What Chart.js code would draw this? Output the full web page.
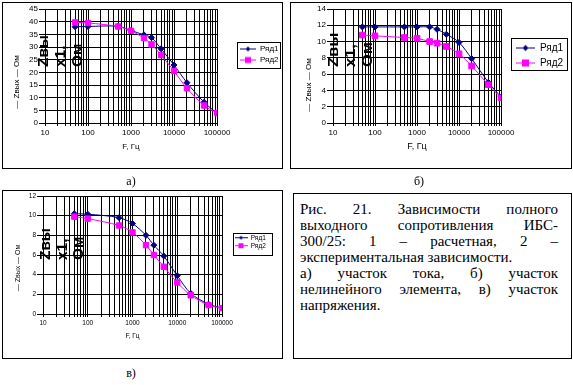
<!DOCTYPE html>
<html><head><meta charset="utf-8">
<script src="https://cdn.jsdelivr.net/npm/chart.js@4/dist/chart.umd.min.js"></script>
<style>
html,body{margin:0;padding:0;background:#fff;}
body{width:573px;height:385px;overflow:hidden;position:relative;font-family:"Liberation Sans",Arial,sans-serif;}
.box{position:absolute;border:1px solid #000;box-sizing:border-box;}
canvas{position:absolute;}
.cap{position:absolute;font-family:"Liberation Serif","Times New Roman",serif;font-size:12px;line-height:12px;transform:translateX(-50%);}
#txt{position:absolute;left:300px;top:201px;width:258px;font-family:"Liberation Serif","Times New Roman",serif;font-size:15px;line-height:16px;color:#000;}
#txt div{white-space:nowrap;}
#txt .j{text-align:justify;text-align-last:justify;white-space:normal;}
</style>
</head><body>
<div class="box" style="left:2px;top:2px;width:281px;height:167px"></div>
<div class="box" style="left:290px;top:2px;width:282px;height:167px"></div>
<div class="box" style="left:2px;top:190px;width:281px;height:169px"></div>
<div class="box" style="left:293px;top:193px;width:279px;height:166px"></div>
<canvas id="ca" width="286" height="172" style="left:0;top:0"></canvas>
<canvas id="cb" width="286" height="172" style="left:287px;top:0"></canvas>
<canvas id="cc" width="286" height="174" style="left:0;top:186px"></canvas>
<div class="cap" style="left:131px;top:175px">а)</div>
<div class="cap" style="left:419px;top:175px">б)</div>
<div class="cap" style="left:131px;top:367px">в)</div>
<div id="txt">
<div class="j">Рис. 21. Зависимости полного</div>
<div class="j">выходного сопротивления ИБС-</div>
<div class="j">300/25: 1 – расчетная, 2 –</div>
<div>экспериментальная зависимости.</div>
<div class="j">а) участок тока, б) участок</div>
<div class="j">нелинейного элемента, в) участок</div>
<div>напряжения.</div>
</div>
<script>
// ---- data ----
const seriesNames = ['Ряд1', 'Ряд2'];
const freqs = [50, 100, 500, 1000, 2000, 3000, 5000, 10000, 20000, 50000, 100000];
const aRow1 = [38.0, 38.1, 38.2, 36.5, 34.8, 33.7, 29.3, 22.9, 15.9, 8.2, 3.9];
const aRow2 = [39.7, 39.5, 38.1, 36.4, 33.5, 31.0, 26.8, 20.5, 13.7, 6.9, 3.9];
const bRow1 = [11.8, 11.8, 11.8, 11.8, 11.8, 11.5, 10.9, 9.9, 7.9, 5.0, 3.2];
const bRow2 = [10.8, 10.7, 10.5, 10.4, 10.0, 9.8, 9.4, 8.5, 7.0, 4.7, 3.1];
const cRow1 = [10.2, 10.15, 9.8, 9.2, 8.0, 7.0, 5.9, 3.9, 2.1, 1.0, 0.6];
const cRow2 = [9.9, 9.7, 9.0, 8.3, 7.0, 6.0, 4.8, 3.2, 1.9, 0.9, 0.6];
const xTickLabels = ['10', '100', '1000', '10000', '100000'];
const yMaxA = 45, yStepA = 5;
const yMaxB = 14, yStepB = 2;
const yMaxC = 12, yStepC = 2;
const xTitle = 'F, Гц';
const yTitleBig = ['Zвы', 'х1,', 'Ом'];
const yTitleSmall = '— Zвых — Ом';

const NAVY = '#000080', MAG = '#FF00FF';
const FONT = '"Liberation Sans", Arial, sans-serif';
const majors = xTickLabels.map(Number);
const gridValues = [];
majors.slice(0, -1).forEach(d => { for (let m = 1; m <= 9; m++) gridValues.push(d * m); });
gridValues.push(majors[majors.length - 1]);

function makeIcon(color, style, w, h, r) {
  const c = document.createElement('canvas'); c.width = w; c.height = h;
  const g = c.getContext('2d');
  const cy = Math.floor(h / 2) + 0.5, cx = w / 2;
  g.strokeStyle = color; g.lineWidth = 1;
  g.beginPath(); g.moveTo(0, cy); g.lineTo(w, cy); g.stroke();
  g.fillStyle = color; g.beginPath();
  if (style === 'rectRot') { g.moveTo(cx, cy - r); g.lineTo(cx + r, cy); g.lineTo(cx, cy + r); g.lineTo(cx - r, cy); }
  else { g.rect(cx - r, cy - r, 2 * r, 2 * r); }
  g.closePath(); g.fill();
  return c;
}

function decor(o) {
  return {
    id: 'decor',
    afterLayout(chart) {
      const l = chart.legend; if (!l) return;
      const [x, y, w] = o.legendBox;
      l.left = x; l.top = y; l.width = w; l.right = x + w; l.height = 200; l.bottom = y + 200;
    },
    afterDraw(chart) {
      const ctx = chart.ctx; ctx.save();
      const [x, y, w, h] = o.legendBox;
      ctx.strokeStyle = '#000'; ctx.lineWidth = 1;
      ctx.strokeRect(x + 0.5, y + 0.5, w, h);
      // big overlapped axis title
      ctx.save();
      ctx.translate(o.big.x, o.big.y); ctx.rotate(-Math.PI / 2); ctx.scale(o.big.stretch, 1);
      ctx.font = 'bold ' + o.big.size + 'px ' + FONT; ctx.fillStyle = '#000';
      ctx.textAlign = 'left'; ctx.textBaseline = 'alphabetic';
      yTitleBig.forEach((t, i) => ctx.fillText(t, 0, i * o.big.gap));
      ctx.restore();
      // small axis title
      ctx.save();
      ctx.translate(o.small.x, o.small.y); ctx.rotate(-Math.PI / 2);
      ctx.font = o.small.size + 'px ' + FONT; ctx.fillStyle = '#000';
      ctx.textAlign = 'center'; ctx.textBaseline = 'middle';
      ctx.fillText(yTitleSmall, 0, 0);
      ctx.restore();
      ctx.restore();
    }
  };
}

function makeChart(id, o) {
  const cv = document.getElementById(id);
  const W = cv.width, H = cv.height;
  const icons = [makeIcon(NAVY, 'rectRot', o.iconW, 9, o.iconR1), makeIcon(MAG, 'rect', o.iconW, 9, o.iconR2)];
  const datasets = [
    { label: seriesNames[0], data: freqs.map((f, i) => ({ x: f, y: o.row1[i] })),
      borderColor: NAVY, backgroundColor: NAVY, pointBackgroundColor: NAVY, pointBorderColor: NAVY,
      pointStyle: 'rectRot', pointRadius: o.r1, pointBorderWidth: 1, borderWidth: 1, tension: 0.3, order: 1 },
    { label: seriesNames[1], data: freqs.map((f, i) => ({ x: f, y: o.row2[i] })),
      borderColor: MAG, backgroundColor: MAG, pointBackgroundColor: MAG, pointBorderColor: MAG,
      pointStyle: 'rect', pointRadius: o.r2, pointBorderWidth: 1, borderWidth: 1, tension: 0.3, order: 0 }
  ];
  return new Chart(cv, {
    type: 'line',
    data: { datasets },
    options: {
      responsive: false, animation: false, devicePixelRatio: 1,
      layout: { padding: { left: o.area.l - o.yW, right: W - o.area.r, top: o.area.t, bottom: H - o.area.b - o.xH } },
      scales: {
        x: {
          type: 'logarithmic', min: majors[0], max: majors[majors.length - 1],
          afterBuildTicks: s => { s.ticks = gridValues.map(v => ({ value: v })); },
          afterFit: s => { s.height = o.xH; },
          ticks: { autoSkip: false, maxRotation: 0, minRotation: 0, color: '#000', padding: o.xPad,
            font: { family: FONT, size: o.tickSize },
            callback: v => { const k = majors.indexOf(v); return k >= 0 ? xTickLabels[k] : ''; } },
          grid: { color: '#000', lineWidth: 1, tickLength: 3 },
          border: { color: '#000' },
          title: { display: true, text: xTitle, color: '#000', font: { family: FONT, size: o.titleSize }, padding: { top: 0, bottom: o.titlePadB } }
        },
        y: {
          type: 'linear', min: 0, max: o.yMax,
          afterFit: s => { s.width = o.yW; },
          ticks: { stepSize: o.yStep, color: '#000', padding: 1, font: { family: FONT, size: o.tickSize } },
          grid: { color: '#000', lineWidth: 1, tickLength: 6 },
          border: { color: '#000' }
        }
      },
      plugins: {
        tooltip: { enabled: false },
        legend: {
          position: 'chartArea', align: 'start',
          labels: {
            usePointStyle: true, pointStyleWidth: o.iconW, padding: o.legPad, color: '#000',
            font: { family: FONT, size: o.legSize, lineHeight: 1.2 },
            generateLabels: chart => chart.data.datasets.map((ds, i) => ({
              text: ds.label, pointStyle: icons[i], fillStyle: ds.backgroundColor, strokeStyle: ds.borderColor,
              lineWidth: 0, hidden: false, datasetIndex: i, fontColor: '#000'
            }))
          }
        }
      }
    },
    plugins: [decor(o)]
  });
}

makeChart('ca', {
  row1: aRow1, row2: aRow2, yMax: yMaxA, yStep: yStepA,
  area: { l: 45, r: 217, t: 9, b: 123 }, yW: 28, xH: 29, xPad: 2, titlePadB: 0,
  tickSize: 8, titleSize: 8, legSize: 8, legPad: 3, iconW: 16, iconR1: 2.5, iconR2: 3,
  r1: 3, r2: 3.8, legendBox: [237, 42, 43, 26],
  big: { x: 48, y: 67, gap: 17, size: 14, stretch: 1.1 }, small: { x: 17, y: 82, size: 8 }
});
makeChart('cb', {
  row1: bRow1, row2: bRow2, yMax: yMaxB, yStep: yStepB,
  area: { l: 46, r: 214, t: 9, b: 123 }, yW: 28, xH: 29, xPad: 2, titlePadB: 0,
  tickSize: 8, titleSize: 9, legSize: 10, legPad: 5, iconW: 19, iconR1: 3, iconR2: 3.5,
  r1: 3, r2: 4, legendBox: [224, 38, 56, 32],
  big: { x: 51, y: 67, gap: 17, size: 15, stretch: 1.1 }, small: { x: 22, y: 85, size: 8 }
});
makeChart('cc', {
  row1: cRow1, row2: cRow2, yMax: yMaxC, yStep: yStepC,
  area: { l: 43, r: 222, t: 10, b: 128 }, yW: 28, xH: 26, xPad: 2, titlePadB: 0,
  tickSize: 6.5, titleSize: 6.5, legSize: 6.5, legPad: 1.5, iconW: 13, iconR1: 2, iconR2: 2.5,
  r1: 3, r2: 3.8, legendBox: [233, 47, 39, 22],
  big: { x: 50, y: 74, gap: 16.5, size: 14, stretch: 1.1 }, small: { x: 18, y: 82, size: 7 }
});
</script>
</body></html>
